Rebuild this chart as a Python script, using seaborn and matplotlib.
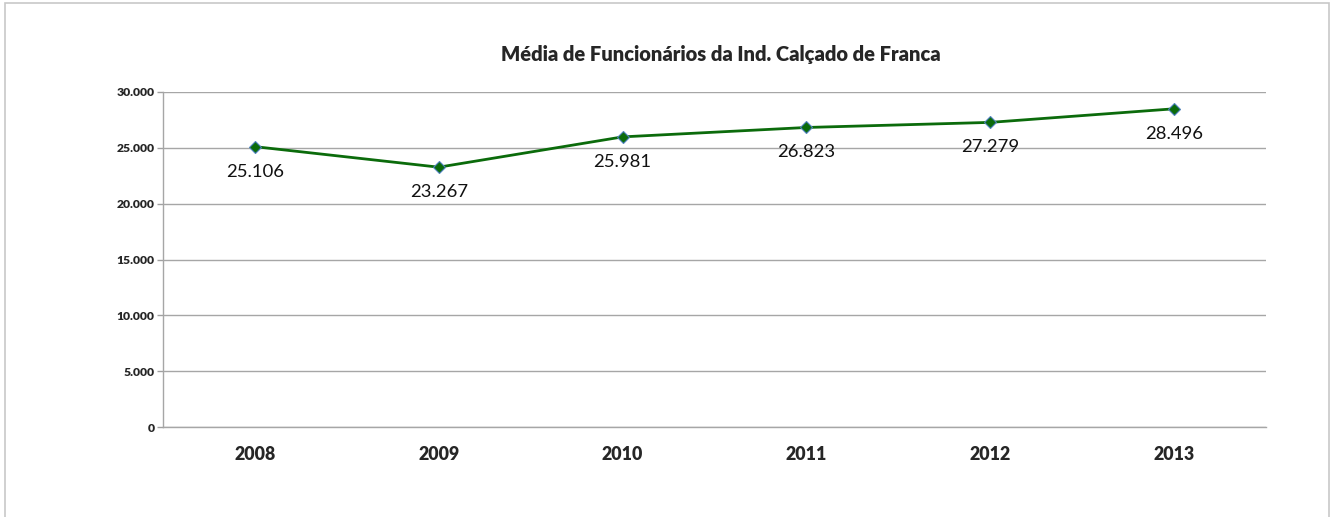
import matplotlib
matplotlib.use("Agg")
import matplotlib.pyplot as plt
import seaborn as sns
import pandas as pd
from matplotlib.patches import Rectangle

# data
years = ["2008", "2009", "2010", "2011", "2012", "2013"]
employees = [25106, 23267, 25981, 26823, 27279, 28496]
yticks = [0, 5000, 10000, 15000, 20000, 25000, 30000]


def br(v):
    # brazilian thousands separator
    return f"{v:,}".replace(",", ".")


sns.set_theme(style="white")
plt.rcParams["font.family"] = ["Lato", "DejaVu Sans"]

df = pd.DataFrame({"ano": years, "func": employees})
df["pos"] = range(len(years))

fig = plt.figure(figsize=(13.3, 5.17), dpi=100)
ax = fig.add_axes([163 / 1330, 1 - 427 / 517, (1266 - 163) / 1330, (427 - 92) / 517])

sns.lineplot(data=df, x="pos", y="func", ax=ax, color="#0b6b0b", linewidth=2.0,
             marker="D", markersize=6, markerfacecolor="#0b6b0b",
             markeredgecolor="#4f81bd", markeredgewidth=0.8)

for x, v in zip(df["pos"], employees):
    ax.annotate(br(v), (x, v), xytext=(0, -18), textcoords="offset points",
                ha="center", va="center", fontsize=13.3, color="#111111")

ax.set_xlim(-0.5, len(years) - 0.5)
ax.set_ylim(0, 30000)
ax.set_yticks(yticks)
ax.set_yticklabels([br(t) for t in yticks], fontsize=8.7, fontweight="heavy")
ax.set_xticks(df["pos"])
ax.set_xticklabels(years, fontsize=12.8, fontweight="heavy")
ax.tick_params(axis="x", length=0, pad=14)
ax.tick_params(axis="y", length=4, width=1, color="#a0a0a0", left=True, pad=2)
ax.set_xlabel("")
ax.set_ylabel("")
ax.grid(axis="y", color="#a6a6a6", linewidth=1)
ax.set_axisbelow(True)
for s in ["top", "right"]:
    ax.spines[s].set_visible(False)
for s in ["left", "bottom"]:
    ax.spines[s].set_color("#a6a6a6")
    ax.spines[s].set_linewidth(1)

fig.text(721 / 1330, 1 - 55 / 517, "Média de Funcionários da Ind. Calçado de Franca",
         ha="center", va="center", fontsize=14.5, fontweight="heavy")

# chart area border (bottom edge is cut off in the original)
fig.patches.append(Rectangle((5 / 1330, -0.05), (1329 - 5) / 1330, 1.05 - 3 / 517,
                             transform=fig.transFigure, fill=False,
                             edgecolor="#c8c8c8", linewidth=1.2))

fig.savefig("out.png", dpi=100)
plt.close(fig)
